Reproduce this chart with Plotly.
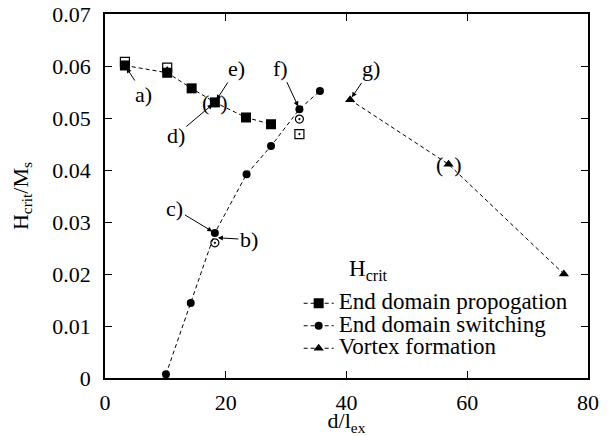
import plotly.graph_objects as go

# End domain propagation (filled squares)
prop_x = [3.3, 10.3, 14.35, 18.2, 23.35, 27.5]
prop_y = [0.0601, 0.0587, 0.0557, 0.0530, 0.0501, 0.0488]
# End domain switching (filled circles)
sw_x = [10.1, 14.2, 18.2, 23.45, 27.5, 32.2, 35.6]
sw_y = [0.0007, 0.0144, 0.0279, 0.0392, 0.0446, 0.0517, 0.0552]
# Vortex formation (triangles)
vx_x = [40.6, 56.9, 76.0]
vx_y = [0.0535, 0.0411, 0.0200]
# open squares / open circles (extra points)
osq_x = [3.3, 10.3, 32.2]
osq_y = [0.0608, 0.0597, 0.0469]
oci_x = [18.2, 32.2]
oci_y = [0.0260, 0.0498]

# annotation labels: (text, x, y, ax, ay)
labels = [
    ("a)", 3.3, 0.0601, 19, 29),
    ("b)", 18.2, 0.0270, 34, 2),
    ("c)", 18.2, 0.0279, -40, -24),
    ("d)", 18.2, 0.0530, -39, 33),
    ("e)", 18.2, 0.0530, 22, -34),
    ("f)", 32.2, 0.0517, -19, -41),
    ("g)", 40.6, 0.0535, 21, -31),
]
paren_pts = [(18.2, 0.0530), (56.9, 0.0411)]

FONT = "Times New Roman, Liberation Serif, Tinos, serif"
FS = 22
LFS = 23
dash = "4px,3px"

fig = go.Figure()
fig.add_trace(go.Scatter(x=osq_x, y=osq_y, mode="markers", showlegend=False,
                         marker=dict(symbol="square-open-dot", size=9, color="black", line=dict(width=1.2))))
fig.add_trace(go.Scatter(x=oci_x, y=oci_y, mode="markers", showlegend=False,
                         marker=dict(symbol="circle-open-dot", size=8, color="black", line=dict(width=1.2))))
names = ["End domain propogation", "End domain switching", "Vortex formation"]
fig.add_trace(go.Scatter(x=prop_x, y=prop_y, mode="lines+markers",
                         name=f'<span style="font-size:{LFS}px">{names[0]}</span>',
                         line=dict(color="black", width=1, dash=dash),
                         marker=dict(symbol="square", size=10, color="black")))
fig.add_trace(go.Scatter(x=sw_x, y=sw_y, mode="lines+markers",
                         name=f'<span style="font-size:{LFS}px">{names[1]}</span>',
                         line=dict(color="black", width=1, dash=dash),
                         marker=dict(symbol="circle", size=8, color="black")))
fig.add_trace(go.Scatter(x=vx_x, y=vx_y, mode="lines+markers",
                         name=f'<span style="font-size:{LFS}px">{names[2]}</span>',
                         line=dict(color="black", width=1, dash=dash),
                         marker=dict(symbol="triangle-up", size=9, color="black")))

annots = []
for t, x, y, ax, ay in labels:
    annots.append(dict(x=x, y=y, ax=ax, ay=ay, text=t, showarrow=True, arrowhead=2,
                       arrowsize=1, arrowwidth=1, arrowcolor="black", standoff=3,
                       font=dict(family=FONT, size=FS, color="black")))
for x, y in paren_pts:
    annots.append(dict(x=x, y=y, text="(\u00a0\u00a0)", showarrow=False,
                       font=dict(family=FONT, size=FS, color="black")))
annots.append(dict(xref="paper", yref="paper", x=0.5, y=0.296, xanchor="left", yanchor="middle",
                   text="H<sub>crit</sub>", showarrow=False,
                   font=dict(family=FONT, size=LFS, color="black")))

axis_common = dict(showline=True, linecolor="black", linewidth=1.5, mirror="ticks",
                   ticks="inside", ticklen=7, tickwidth=1.2, tickcolor="black",
                   showgrid=False, zeroline=False, automargin=False,
                   ticklabeloverflow="allow",
                   tickfont=dict(family=FONT, size=FS, color="black"))

fig.update_layout(
    width=610, height=436,
    margin=dict(l=105, r=22, t=14, b=58),
    paper_bgcolor="white", plot_bgcolor="white",
    font=dict(family=FONT, size=FS, color="black"),
    xaxis=dict(range=[0, 80], dtick=20, tick0=0,
               title=dict(text="d/l<sub>ex</sub>", standoff=2, font=dict(family=FONT, size=FS)),
               ticklabelstandoff=4, **axis_common),
    yaxis=dict(range=[0, 0.07], dtick=0.01, tick0=0,
               title=dict(text="H<sub>crit</sub>/M<sub>s</sub>", standoff=18, font=dict(family=FONT, size=FS)),
               ticklabelstandoff=8, **axis_common),
    legend=dict(x=0.401, y=0.250, xanchor="left", yanchor="top", bgcolor="rgba(0,0,0,0)",
                font=dict(family=FONT, size=15, color="black"),
                itemwidth=30, traceorder="normal"),
    annotations=annots,
)
fig.write_html("out.html", config={"displayModeBar": False},
               post_script="document.body.style.margin='0';")
